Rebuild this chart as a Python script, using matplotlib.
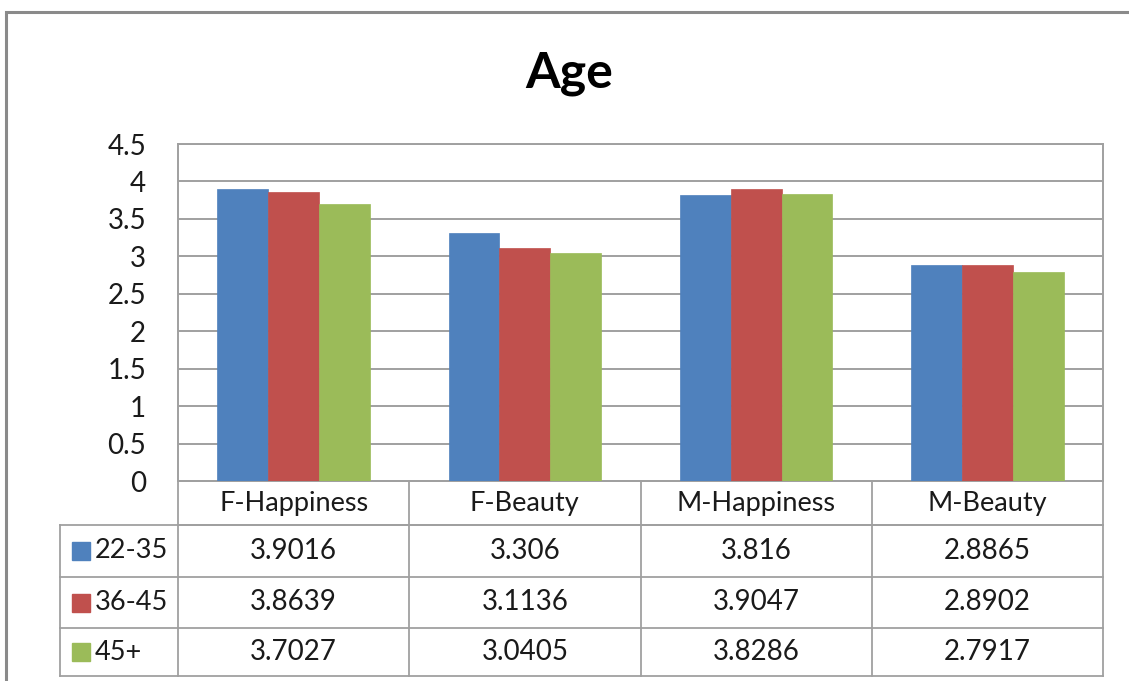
import matplotlib.pyplot as plt
import matplotlib.patches as mpatches
import numpy as np

plt.rcParams['font.family'] = ['Lato', 'DejaVu Sans']

categories = ["F-Happiness", "F-Beauty", "M-Happiness", "M-Beauty"]
series = ["22-35", "36-45", "45+"]
vals_22_35 = [3.9016, 3.306, 3.816, 2.8865]
vals_36_45 = [3.8639, 3.1136, 3.9047, 2.8902]
vals_45p = [3.7027, 3.0405, 3.8286, 2.7917]
yticks = [0, 0.5, 1, 1.5, 2, 2.5, 3, 3.5, 4, 4.5]
ytick_labels = ["0", "0.5", "1", "1.5", "2", "2.5", "3", "3.5", "4", "4.5"]

colors = ["#4F81BD", "#C0504D", "#9BBB59"]
grid_c = "#A0A0A0"
text_c = "#1a1a1a"

W, H = 1129, 681
fig = plt.figure(figsize=(W / 100, H / 100), dpi=100)

# outer chart border (runs off right/bottom edges like the screenshot)
fig.patches.append(mpatches.Rectangle((6 / W, -0.01), 1.2, (H - 12) / H + 0.01,
                                      transform=fig.transFigure, fill=False,
                                      edgecolor="#8a8a8a", linewidth=2.2))

# plot area in pixels
px_l, px_r, px_t, px_b = 178, 1103, 144, 481
ax = fig.add_axes([px_l / W, 1 - px_b / H, (px_r - px_l) / W, (px_b - px_t) / H])

x = np.arange(len(categories))
bw = 0.22
all_vals = [vals_22_35, vals_36_45, vals_45p]
for i, (v, c) in enumerate(zip(all_vals, colors)):
    ax.bar(x + (i - 1) * bw, v, width=bw, color=c, edgecolor=c, linewidth=0.5, zorder=3)

ax.set_xlim(-0.5, len(categories) - 0.5)
ax.set_ylim(0, 4.5)
ax.set_yticks(yticks)
ax.set_yticklabels(ytick_labels, fontsize=20, color=text_c)
ax.tick_params(axis='y', length=0, pad=23)
ax.set_xticks([])
ax.yaxis.grid(True, color=grid_c, linewidth=1.4, zorder=0)
for s in ax.spines.values():
    s.set_color(grid_c)
    s.set_linewidth(1.4)

fig.text(569 / W, 1 - 74 / H, "Age", fontsize=36, fontweight='bold',
         ha='center', va='center', color='black')

# data table below the plot, x in data units, y in axes units
trans = ax.get_xaxis_transform()
ph = px_b - px_t
def ay(py):
    return (px_b - py) / ph

row_edges = [481, 525, 577, 628, 676]
legend_left = -0.5 - (178 - 60) / (px_r - px_l) * len(categories)
lw = 1.3
# horizontal lines
ax.plot([-0.5, 3.5], [ay(525)] * 2, transform=trans, color=grid_c, lw=lw, clip_on=False)
ax.plot([-0.5, 3.5], [ay(481)] * 2, transform=trans, color=grid_c, lw=lw, clip_on=False)
for r in row_edges[1:]:
    ax.plot([legend_left, 3.5], [ay(r)] * 2, transform=trans, color=grid_c, lw=lw, clip_on=False)
# vertical lines
for xb in np.arange(-0.5, 4.0, 1.0):
    ax.plot([xb, xb], [ay(481), ay(676)], transform=trans, color=grid_c, lw=lw, clip_on=False)
ax.plot([legend_left] * 2, [ay(525), ay(676)], transform=trans, color=grid_c, lw=lw, clip_on=False)

# header
for j, cat in enumerate(categories):
    ax.text(j, ay((481 + 525) / 2), cat, transform=trans, ha='center', va='center',
            fontsize=19.5, color=text_c)
# rows
unit_px = (px_r - px_l) / len(categories)
for i, (name, v, c) in enumerate(zip(series, all_vals, colors)):
    yc = ay((row_edges[i + 1] + row_edges[i + 2]) / 2)
    sq_x = legend_left + (72 - 60) / unit_px
    sq_w = 18 / unit_px
    ax.add_patch(mpatches.Rectangle((sq_x, yc - 9 / ph), sq_w, 18 / ph, transform=trans,
                                    color=c, clip_on=False))
    ax.text(legend_left + (95 - 60) / unit_px, yc, name, transform=trans, ha='left',
            va='center', fontsize=19.5, color=text_c)
    for j, val in enumerate(v):
        ax.text(j, yc, f"{val:g}", transform=trans, ha='center', va='center',
                fontsize=20, color=text_c)

fig.savefig("out.png", dpi=100)
